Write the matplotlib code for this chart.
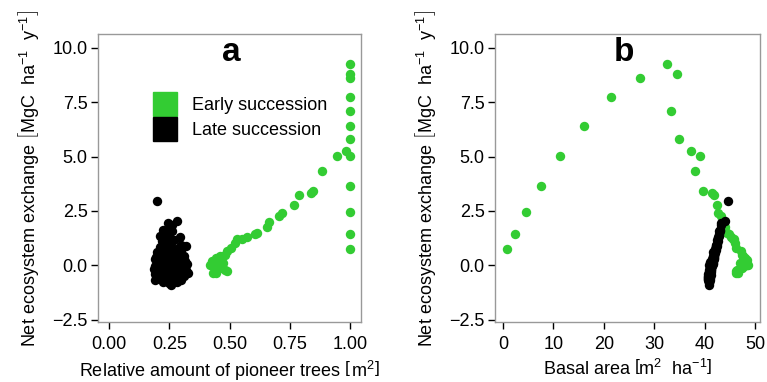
import matplotlib
matplotlib.use("Agg")
import matplotlib.pyplot as plt
from matplotlib.lines import Line2D

plt.rcParams["font.family"] = ["Liberation Sans", "DejaVu Sans"]
plt.rcParams["mathtext.fontset"] = "custom"
plt.rcParams["mathtext.rm"] = "Liberation Sans"
plt.rcParams["mathtext.it"] = "Liberation Sans:italic"
plt.rcParams["mathtext.bf"] = "Liberation Sans:bold"

GREEN = "#33cc33"

# --------------------------------------------------
# Data: early succession (green)
# --------------------------------------------------
early_nee = [9.23, 8.78, 8.59, 7.75, 7.11, 6.41, 5.82, 5.27, 5.03, 5.03,
             4.34, 3.67, 3.42, 3.34, 3.24, 2.78, 2.45, 2.39, 2.27, 2.01,
             1.78, 1.49, 1.45, 1.45, 1.29, 1.23, 1.22, 1.02, 0.79, 0.77,
             0.64, 0.48, 0.41, 0.32, 0.25, 0.18, 0.10, 0.02, 0.00, -0.05,
             -0.10, -0.13, -0.21, -0.28, -0.36, -0.33]
early_pioneer = [1.00, 1.00, 1.00, 1.00, 1.00, 1.00, 1.00, 0.983, 1.00, 0.945,
                 0.886, 1.00, 0.848, 0.838, 0.787, 0.766, 1.00, 0.716, 0.704, 0.662,
                 0.654, 0.615, 1.00, 0.605, 0.571, 0.550, 0.530, 0.522, 0.508, 1.00,
                 0.490, 0.481, 0.460, 0.442, 0.450, 0.427, 0.474, 0.440, 0.418, 0.455,
                 0.453, 0.467, 0.480, 0.488, 0.432, 0.445]
early_basal = [32.5, 34.6, 27.1, 21.5, 33.3, 16.1, 34.9, 37.3, 11.4, 39.0,
               38.0, 7.5, 39.7, 41.5, 41.9, 42.4, 4.5, 42.7, 43.2, 43.8,
               44.0, 44.5, 2.4, 44.8, 45.3, 45.6, 45.8, 46.0, 46.3, 0.86,
               47.3, 47.4, 47.6, 48.0, 48.4, 48.3, 47.0, 48.5, 48.6, 47.8,
               47.5, 47.2, 46.5, 46.3, 46.2, 46.6]

# --------------------------------------------------
# Data: late succession (black)
# --------------------------------------------------
late_nee = [2.95, 2.02, 1.97, 1.85, 1.63, 1.60, 1.45, 1.35, 1.30, 1.25,
            1.15, 1.10, 1.00, 0.95, 0.90, 0.85, 0.80, 0.75, 0.70, 0.65,
            0.60, 0.55, 0.50, 0.45, 0.42, 0.38, 0.35, 0.30, 0.28, 0.25,
            0.22, 0.20, 0.15, 0.12, 0.10, 0.08, 0.05, 0.02, 0.00, -0.02,
            -0.05, -0.08, -0.10, -0.12, -0.15, -0.18, -0.20, -0.22, -0.25, -0.28,
            -0.30, -0.32, -0.35, -0.38, -0.40, -0.42, -0.45, -0.48, -0.50, -0.52,
            -0.55, -0.58, -0.60, -0.62, -0.65, -0.68, -0.70, -0.74, -0.78, -0.82,
            -0.89, 0.00, -0.30, 0.30, -0.10, 0.60, -0.60, 0.15, -0.45, 0.40,
            -0.20, 0.05, -0.65, 0.90, 1.60]
late_pioneer = [0.200, 0.280, 0.245, 0.260, 0.224, 0.260, 0.240, 0.210, 0.294, 0.250,
                0.270, 0.220, 0.240, 0.300, 0.320, 0.210, 0.260, 0.280, 0.230, 0.300,
                0.200, 0.250, 0.270, 0.220, 0.310, 0.240, 0.290, 0.190, 0.260, 0.210,
                0.315, 0.230, 0.280, 0.250, 0.200, 0.300, 0.220, 0.270, 0.240, 0.190,
                0.310, 0.210, 0.260, 0.290, 0.185, 0.230, 0.320, 0.250, 0.200, 0.280,
                0.220, 0.300, 0.328, 0.240, 0.190, 0.270, 0.210, 0.310, 0.250, 0.200,
                0.290, 0.230, 0.270, 0.210, 0.300, 0.240, 0.260, 0.224, 0.280, 0.250,
                0.259, 0.200, 0.255, 0.235, 0.305, 0.240, 0.255, 0.215, 0.280, 0.195,
                0.215, 0.325, 0.190, 0.255, 0.235]
late_basal = [44.7, 44.0, 43.2, 43.3, 43.0, 43.1, 42.9, 42.8, 42.7, 42.6,
              42.5, 42.6, 42.4, 42.3, 42.5, 42.2, 42.3, 42.1, 42.2, 42.0,
              41.9, 42.0, 41.8, 41.7, 41.9, 41.6, 41.8, 41.5, 41.7, 41.4,
              41.6, 41.5, 41.3, 41.6, 41.2, 41.4, 41.3, 41.5, 41.1, 41.3,
              41.4, 41.0, 41.2, 41.3, 41.0, 41.1, 41.2, 40.9, 41.0, 41.1,
              40.8, 41.0, 41.1, 40.9, 40.7, 41.0, 40.8, 40.9, 40.7, 40.6,
              40.8, 40.7, 40.9, 40.6, 40.8, 40.7, 40.9, 40.8, 40.9, 40.8,
              40.9, 40.9, 41.3, 41.9, 41.0, 41.7, 41.0, 41.0, 41.2, 41.9,
              41.3, 41.6, 41.0, 42.2, 42.8]

y_ticks = [-2.5, 0.0, 2.5, 5.0, 7.5, 10.0]
a_ticks = [0.0, 0.25, 0.5, 0.75, 1.0]
b_ticks = [0, 10, 20, 30, 40, 50]

ylab = r"Net ecosystem exchange $\left[\mathrm{MgC\ \ ha^{-1}\ \ y^{-1}}\right]$"
DOT = 46

fig = plt.figure(figsize=(7.67, 3.82), dpi=100)
ax_a = fig.add_axes([98 / 767, 60 / 382, 263 / 767, 288 / 382])
ax_b = fig.add_axes([495 / 767, 60 / 382, 265 / 767, 288 / 382])


def style(ax):
    for sp in ax.spines.values():
        sp.set_color("#999999")
        sp.set_linewidth(1.0)
    ax.tick_params(direction="out", length=5, width=1, color="black",
                   labelsize=13, pad=2.5)
    ax.tick_params(axis="x", pad=5)
    ax.set_ylim(-2.6, 10.63)
    ax.set_yticks(y_ticks)
    ax.set_yticklabels([f"{v:.1f}".replace("-", "\u2212") for v in y_ticks])
    ax.set_ylabel(ylab, fontsize=13, labelpad=8)


# Panel a
ax_a.scatter(early_pioneer, early_nee, s=DOT, color=GREEN, linewidths=0, zorder=2)
ax_a.scatter(late_pioneer, late_nee, s=DOT, color="black", linewidths=0, zorder=3)
ax_a.set_xlim(-0.046, 1.046)
ax_a.set_xticks(a_ticks)
ax_a.set_xticklabels([f"{v:.2f}" for v in a_ticks])
ax_a.set_xlabel(r"Relative amount of pioneer trees $\left[\mathrm{\,m^{2}}\right]$",
                fontsize=13, labelpad=4)
style(ax_a)
ax_a.text(0.508, 0.935, "a", transform=ax_a.transAxes, fontsize=24,
          fontweight="bold", ha="center", va="center")

handles = [
    Line2D([], [], marker="s", linestyle="none", markersize=17,
           markerfacecolor=GREEN, markeredgecolor=GREEN),
    Line2D([], [], marker="s", linestyle="none", markersize=17,
           markerfacecolor="black", markeredgecolor="black"),
]
ax_a.legend(handles, ["Early succession", "Late succession"], loc="upper left",
            bbox_to_anchor=(0.209, 0.78), frameon=False, fontsize=13,
            handlelength=1.31, handletextpad=0.85, labelspacing=0.45,
            borderaxespad=0, borderpad=0)

# Panel b
ax_b.scatter(early_basal, early_nee, s=DOT, color=GREEN, linewidths=0, zorder=2)
ax_b.scatter(late_basal, late_nee, s=DOT, color="black", linewidths=0, zorder=3)
ax_b.set_xlim(-1.6, 51.0)
ax_b.set_xticks(b_ticks)
ax_b.set_xlabel(r"Basal area $\left[\mathrm{m^{2}\ \ ha^{-1}}\right]$",
                fontsize=13, labelpad=4)
style(ax_b)
ax_b.text(0.487, 0.935, "b", transform=ax_b.transAxes, fontsize=24,
          fontweight="bold", ha="center", va="center")

fig.savefig("out.png", dpi=100)
